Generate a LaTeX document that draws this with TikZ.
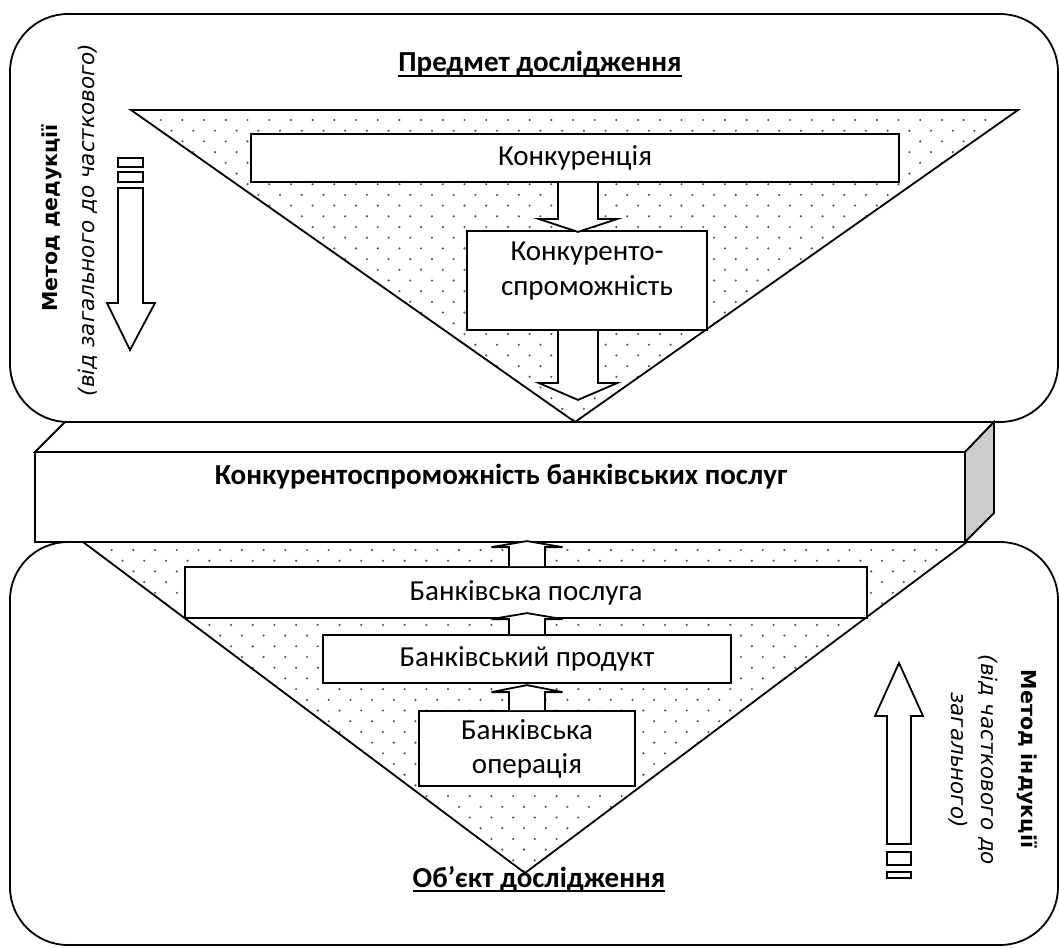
\documentclass[tikz,border=0pt]{standalone}
\usepackage{fontspec}
\setmainfont{Carlito}
\newfontfamily\sidefont{DejaVu Sans}
\usetikzlibrary{calc}
\definecolor{sideface}{HTML}{CCCCCC}
\definecolor{dotgray}{HTML}{555555}

\begin{document}
\begin{tikzpicture}[x=1pt,y=-1pt,
  outline/.style={draw=black,fill=white,line width=1.8pt,line join=miter},
  box/.style={draw=black,fill=white,line width=1.8pt,inner sep=0pt,
              font=\fontsize{29}{34}\selectfont,align=center},
  txt/.style={inner sep=0pt,font=\fontsize{29}{35}\selectfont,align=center},
  btxt/.style={inner sep=0pt,font=\fontsize{29}{33}\selectfont\bfseries},
  sidebold/.style={inner sep=0pt,font=\sidefont\fontsize{20.5}{24}\selectfont\bfseries},
  sideital/.style={inner sep=0pt,font=\sidefont\fontsize{21.5}{30}\selectfont\itshape,align=center},
  dot/.style={fill=dotgray},
  pics/vblock/.style n args={4}{code={
    \draw[outline] (-#1,0) -- (-#1,#3) -- (-#2,#3) -- (0,#4) -- (#2,#3) -- (#1,#3) -- (#1,0);
  }}]

\useasboundingbox (0,0) rectangle (1059,947);

% --- the two rounded frames ---
\draw[outline,rounded corners=58] (10,14) rectangle (1058,422);
\draw[outline,rounded corners=58] (10,542) rectangle (1058,945);

% --- upper (inverted) triangle with dotted fill ---
\begin{scope}
  \clip (131,110) -- (1018,110) -- (575,422) -- cycle;
  \foreach \r in {0,...,29} {
    \foreach \c in {0,...,41} {
      \fill[dot] ({139+\c*21.7+mod(\r,2)*10.85},{120+\r*10.7}) circle (1.2);
    }
  }
\end{scope}
\draw[line width=1.8pt,line join=miter] (131,110) -- (1018,110) -- (575,422) -- cycle;

% --- lower triangle with dotted fill ---
\begin{scope}
  \clip (83,542) -- (967,542) -- (525,873) -- cycle;
  \foreach \r in {0,...,31} {
    \foreach \c in {0,...,41} {
      \fill[dot] ({90+\c*21.7+mod(\r,2)*10.85},{550+\r*10.7}) circle (1.2);
    }
  }
\end{scope}
\draw[line width=1.8pt,line join=miter] (83,542) -- (967,542) -- (525,873) -- cycle;

% --- headings ---
\node[btxt,anchor=base] (subject) at (540,72) {Предмет дослідження};
\draw[line width=1.8pt] ([yshift=-4]subject.base west) -- ([yshift=-4]subject.base east);
\node[btxt,anchor=base] (object) at (539,887) {Об’єкт дослідження};
\draw[line width=1.8pt] ([yshift=-4]object.base west) -- ([yshift=-4]object.base east);

% --- upper chain ---
\node[box,minimum width=648,minimum height=48] (konk) at (575,158) {Конкуренція};
\node[box,minimum width=240,minimum height=99] (kp) at (587,280.5) {};
\node[txt] (kp-text) at ([yshift=9]kp.center) {Конкуренто-\\спроможність};
\pic at ([xshift=3]konk.south) {vblock={20}{39.5}{36}{49}};
\pic at ([xshift=-9]kp.south) {vblock={20}{39.5}{52}{69}};

% --- central 3D bar ---
\draw[outline] (35,452) -- (65,422) -- (994,422) -- (965,452) -- cycle;
\draw[outline,fill=sideface] (965,452) -- (994,422) -- (994,513) -- (965,542) -- cycle;
\node[box,minimum width=930,minimum height=90] (bar) at (500,497) {};
\node[btxt] (bar-text) at (501,477) {Конкурентоспроможність банківських послуг};

% --- lower chain ---
\node[box,minimum width=682,minimum height=51] (service) at (526,592.5) {Банківська послуга};
\node[box,minimum width=408,minimum height=48] (product) at (527,659) {Банківський продукт};
\node[box,minimum width=216,minimum height=75] (operation) at (527,748.5) {Банківська\\операція};
\pic at ([xshift=1]service.north) {vblock={18}{35.5}{-19}{-25}};
\pic at (product.north) {vblock={18}{35.5}{-15}{-21}};
\pic at (operation.north) {vblock={18}{35.5}{-18}{-25}};

% --- deduction: side label and downward arrow ---
\node[sidebold,rotate=90] (ded) at (52,218) {Метод дедукції};
\node[sideital,rotate=90] (ded-note) at (88,220) {(від загального до часткового)};
\draw[outline] (118,158) rectangle (143,167);
\draw[outline] (118,172) rectangle (143,182);
\draw[outline] (118,188) -- (143,188) -- (143,303) -- (155,303) -- (130,350)
  -- (107,303) -- (118,303) -- cycle;

% --- induction: side label and upward arrow ---
\node[sidebold,rotate=-90] (ind) at (1027,759) {Метод індукції};
\node[sideital,rotate=-90] (ind-note) at (973,760) {(від часткового до\\загального)};
\draw[outline] (887,872) rectangle (911,878);
\draw[outline] (887,852) rectangle (911,865);
\draw[outline] (887,844) -- (911,844) -- (911,716) -- (923,716) -- (899,663)
  -- (875,716) -- (887,716) -- cycle;

\end{tikzpicture}
\end{document}
